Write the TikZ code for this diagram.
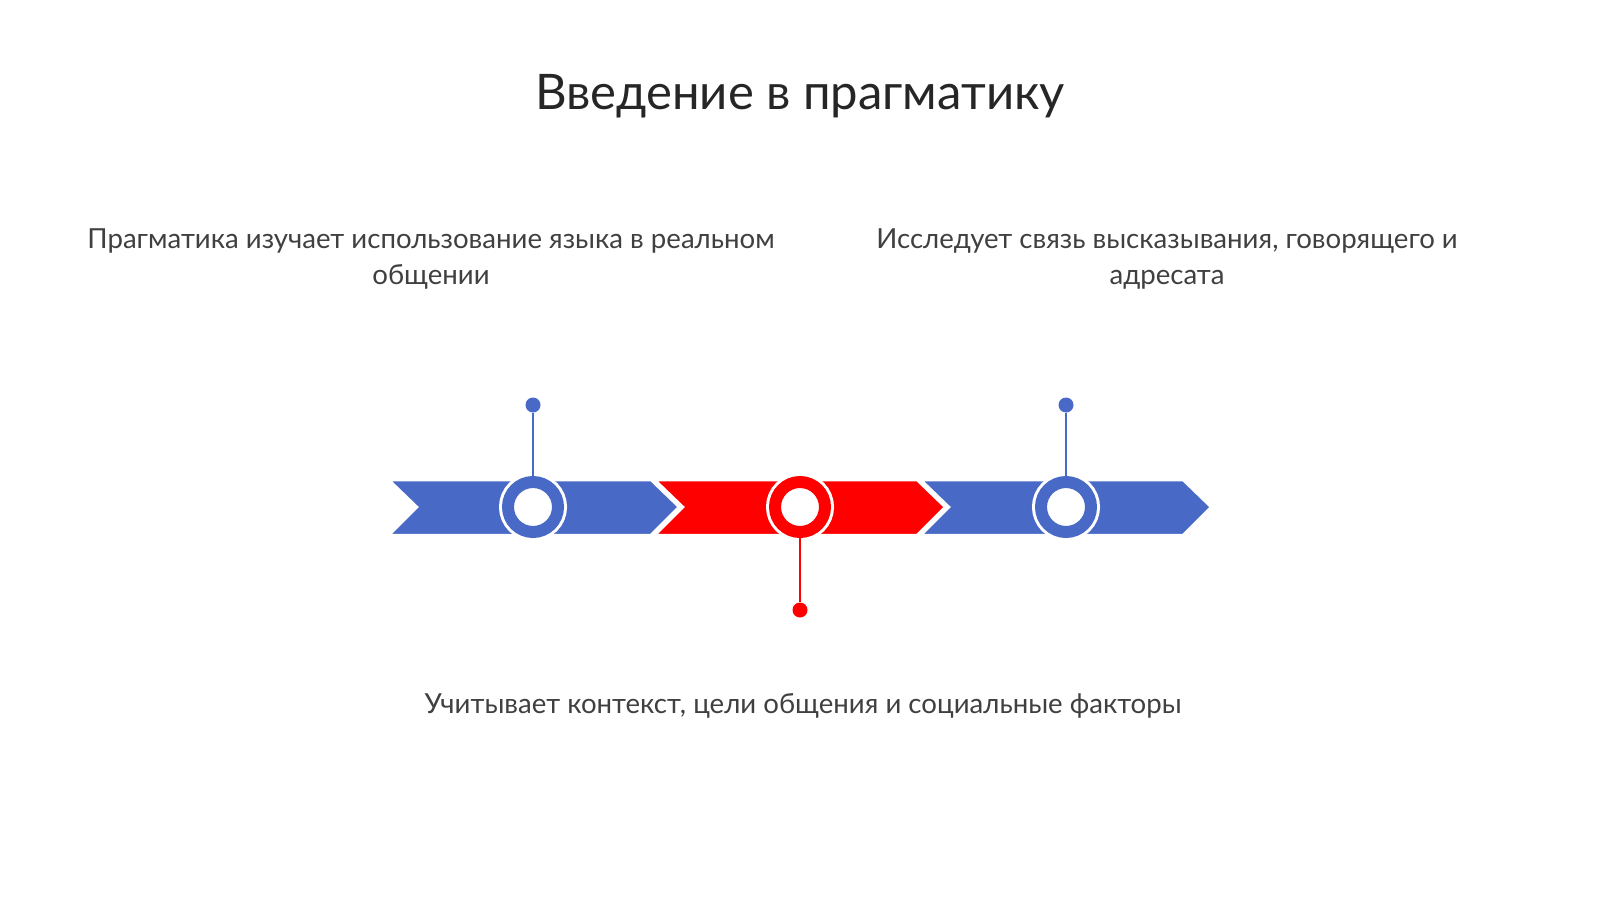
\documentclass[tikz,border=0pt]{standalone}
\usepackage{fontspec}
\setmainfont{Lato}

\begin{document}
\begin{tikzpicture}[x=1pt,y=-1pt,
	chevron/.style={fill=#1,draw=white,line width=2.5pt,line join=miter},
	ring/.style={circle,fill=white,draw=#1,line width=12pt,minimum size=50pt,inner sep=0pt,
		preaction={draw=white,line width=18pt}},
	dot/.style={circle,fill=#1,minimum size=15pt,inner sep=0pt},
	stem/.style={draw=#1,line width=2.5pt},
	label/.style={text=textgray,font=\fontsize{27.6}{36}\selectfont,align=center}]
	\definecolor{pblue}{RGB}{72,106,198}
	\definecolor{pred}{RGB}{255,0,0}
	\definecolor{textgray}{RGB}{64,64,64}
	\definecolor{titlegray}{RGB}{38,38,38}

	\useasboundingbox[fill=white] (0,0) rectangle (1600,899);

	\node[text=titlegray,font=\fontsize{49}{58}\selectfont] (title) at (800,96) {Введение в прагматику};

	\foreach \x/\c in {389/pblue,655/pred,921/pblue}
		\draw[chevron=\c] (\x,480) -- (\x+262,480) -- (\x+290,507) -- (\x+262,535) -- (\x,535) -- (\x+28,507) -- cycle;

	\node[ring=pblue] (r1) at (533,507) {};
	\node[ring=pred] (r2) at (800,507) {};
	\node[ring=pblue] (r3) at (1066,507) {};

	\node[dot=pblue] (d1) at (533,405) {};
	\node[dot=pred] (d2) at (800,610) {};
	\node[dot=pblue] (d3) at (1066,405) {};

	\draw[stem=pblue] (r1) -- (d1);
	\draw[stem=pred] (r2) -- (d2);
	\draw[stem=pblue] (r3) -- (d3);

	\node[label] (t1) at (431,259) {Прагматика изучает использование языка в реальном\\общении};
	\node[label] (t2) at (1167,259) {Исследует связь высказывания, говорящего и\\адресата};
	\node[label] (t3) at (803,706) {Учитывает контекст, цели общения и социальные факторы};
\end{tikzpicture}
\end{document}
